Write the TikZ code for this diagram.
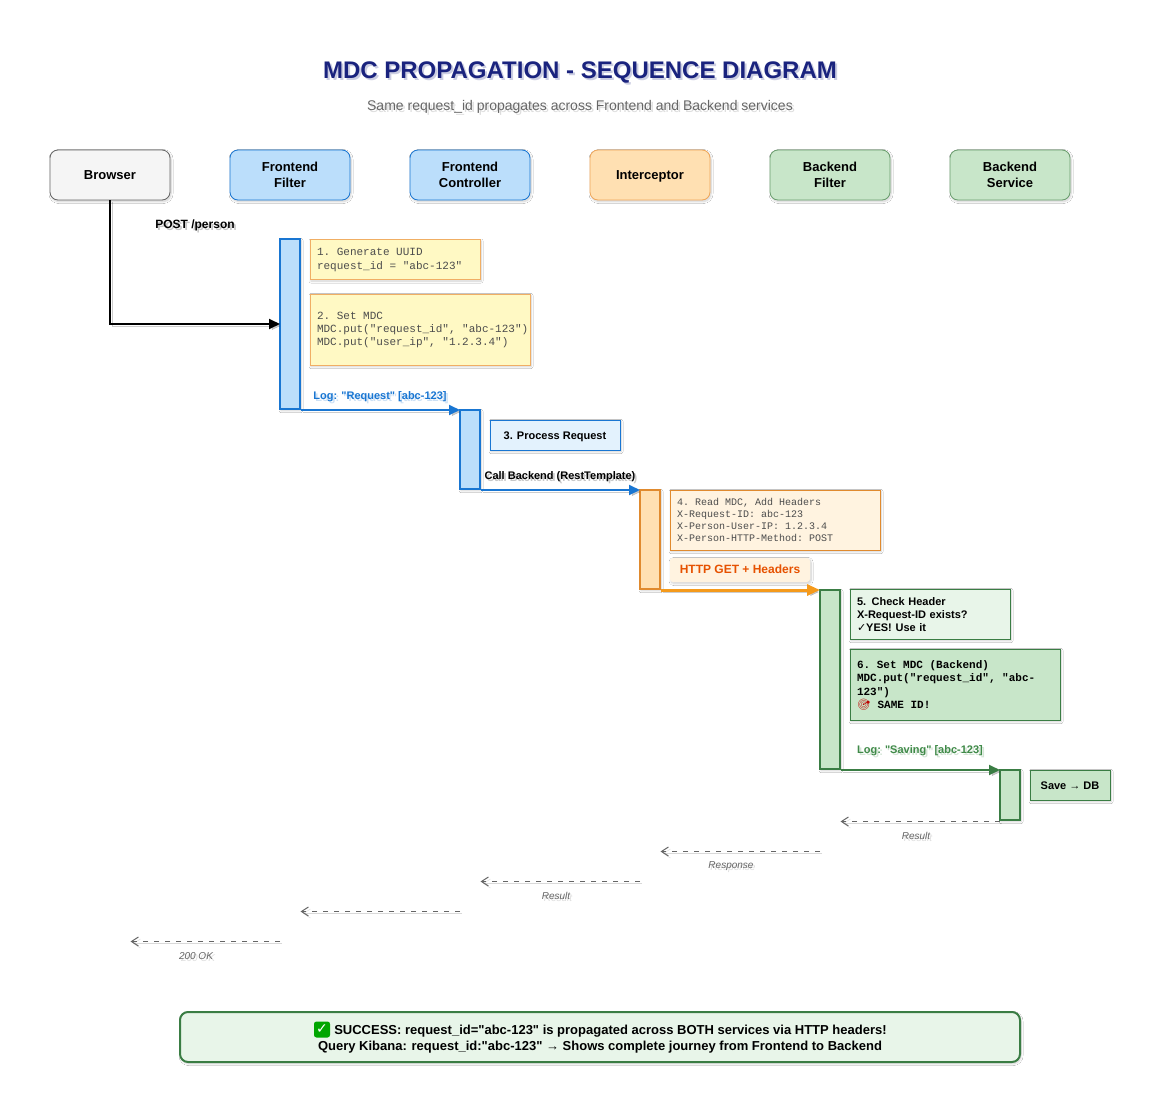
\documentclass[tikz,border=0pt]{standalone}
\usepackage{fontspec}
\usepackage{xcolor}
\setmainfont[Ligatures=TeXOff]{Liberation Sans}
\setmonofont{Liberation Mono}
\newfontfamily\emojifont{Noto Emoji}
\newfontfamily\symfont{DejaVu Sans}
\usetikzlibrary{arrows.meta,shadows.blur,positioning}
\definecolor{cblue}{HTML}{1976D2}
\definecolor{cbluef}{HTML}{BBDEFB}
\definecolor{cbluel}{HTML}{E3F2FD}
\definecolor{cgreen}{HTML}{3A7D44}
\definecolor{cgreena}{HTML}{6A9E6E}
\definecolor{cgreenf}{HTML}{C8E6C9}
\definecolor{cgreenl}{HTML}{E8F5E9}
\definecolor{cgreent}{HTML}{3F8A48}
\definecolor{corange}{HTML}{E08A2E}
\definecolor{corangea}{HTML}{EFA65A}
\definecolor{corangew}{HTML}{F59A1B}
\definecolor{corangef}{HTML}{FFE0B2}
\definecolor{corangel}{HTML}{FFF3E0}
\definecolor{chttp}{HTML}{E65100}
\definecolor{cyel}{HTML}{FFF9C4}
\definecolor{cyelb}{HTML}{F0AE64}
\definecolor{cnavy}{HTML}{1A237E}
\definecolor{cgrey}{HTML}{666666}
\newcommand{\fs}[2]{\fontsize{#1}{#2}\selectfont}
\newcommand{\lift}[1]{\rule{0pt}{#1pt}}
\newcommand{\monosp}[1]{\spaceskip=#1pt\relax\xspaceskip=#1pt\relax}
\newcommand{\shlabel}[4]{%
  \node[#3,opacity=.22,xshift=2pt,yshift=-2pt] at (#2) {#4};
  \node[#3] (#1) at (#2) {#4};}
\tikzset{
  x=1pt,y=-1pt,
  softsh/.style={blur shadow={shadow xshift=1pt,shadow yshift=-1.5pt,shadow blur steps=12,shadow blur radius=2pt,shadow opacity=20}},
  actor/.style={draw,rounded corners=8pt,line width=.8pt,minimum width=120pt,minimum height=50pt,inner sep=0pt,align=center,font=\fs{13}{16}\bfseries,softsh},
  bar/.style={draw,line width=2pt,minimum width=20pt,inner sep=0pt,softsh},
  note/.style={draw,line width=1pt,inner sep=0pt,softsh,align=left},
  plain/.style={inner sep=0pt,align=center},
  msg/.style={line width=2pt,shorten >=-1pt,-{Triangle[length=11pt,width=10pt]},preaction={draw,black,opacity=.2,transform canvas={shift={(2pt,-2pt)}}}},
  ret/.style={line width=1pt,cgrey,dash pattern=on 5pt off 6pt,-{Straight Barb[length=7pt,width=9pt]},preaction={draw,black,opacity=.15,transform canvas={shift={(2pt,-2pt)}}}},
  retlab/.style={plain,font=\fs{10}{12}\itshape,cgrey},
}
\begin{document}
\begin{tikzpicture}
\useasboundingbox (0,0) rectangle (1168,1119);
\fill[white] (0,0) rectangle (1168,1119);
% title
\shlabel{title}{580,72}{plain,font=\fs{24}{28}\bfseries,text=cnavy}{MDC PROPAGATION - SEQUENCE DIAGRAM}
\shlabel{subtitle}{580,107}{plain,font=\fs{14}{16},text=cgrey}{Same request\_id propagates across Frontend and Backend services}
% actors
\node[actor,fill=black!4,draw=cgrey] (browser) at (110,175) {Browser};
\node[actor,fill=cbluef,draw=cblue] (ffilter) at (290,175) {Frontend\\Filter};
\node[actor,fill=cbluef,draw=cblue] (fctrl) at (470,175) {Frontend\\Controller};
\node[actor,fill=corangef,draw=corangea] (intc) at (650,175) {\lift{12}Interceptor};
\node[actor,fill=cgreenf,draw=cgreena] (bfilter) at (830,175) {Backend\\Filter};
\node[actor,fill=cgreenf,draw=cgreena] (bservice) at (1010,175) {Backend\\Service};
% activation bars
\node[bar,fill=cbluef,draw=cblue,minimum height=170pt] (barff) at (290,324) {};
\node[bar,fill=cbluef,draw=cblue,minimum height=79pt] (barfc) at (470,449.5) {};
\node[bar,fill=corangef,draw=corange,minimum height=99pt] (barin) at (650,539.5) {};
\node[bar,fill=cgreenf,draw=cgreen,minimum height=179pt] (barbf) at (830,679.5) {};
\node[bar,fill=cgreenf,draw=cgreen,minimum height=50pt] (barbs) at (1010,795) {};
% notes
\node[note,fill=cyel,draw=cyelb,minimum width=170pt,minimum height=40pt,text width=156pt,text=black!70,font=\ttfamily\fs{11}{14}] (n1) at (395,259.5) {\monosp{6.6}1. Generate UUID\\request\_id = "abc-123"};
\node[note,fill=cyel,draw=cyelb,minimum width=220pt,minimum height=71pt,text width=206pt,text=black!70,font=\ttfamily\fs{11}{13}] (n2) at (420,329.5) {\monosp{6.6}2. Set MDC\\\mbox{MDC.put("request\_id", "abc-123")}\\\mbox{MDC.put("user\_ip", "1.2.3.4")}};
\node[note,fill=cbluel,draw=cblue,minimum width=130pt,minimum height=30pt,align=center,font=\fs{11}{13}\bfseries] (n3) at (555,435) {\lift{12}3. Process Request};
\node[note,fill=corangel,draw=corange,minimum width=210pt,minimum height=60pt,text width=196pt,text=black!70,font=\ttfamily\fs{10}{12}] (n4) at (775,520) {\monosp{6}4. Read MDC, Add Headers\\X-Request-ID: abc-123\\X-Person-User-IP: 1.2.3.4\\X-Person-HTTP-Method: POST};
\node[plain,fill=corangel,rounded corners=3pt,minimum width=140pt,minimum height=24pt,softsh,text=chttp,font=\fs{12}{14}\bfseries] (httpl) at (740,570) {\rule[-2pt]{0pt}{2pt}HTTP GET + Headers};
\node[note,fill=cgreenl,draw=cgreen,minimum width=160pt,minimum height=50pt,text width=146pt,font=\fs{11}{13}\bfseries] (n5) at (930,614) {\lift{10}5. Check Header\\X-Request-ID exists?\\{\symfont ✓}YES! Use it};
\node[note,fill=cgreenf,draw=cgreen,minimum width=210pt,minimum height=71pt,text width=196pt,font=\ttfamily\fs{11}{13.3}\bfseries] (n6) at (955,684.5) {\monosp{6.6}\lift{10}6. Set MDC (Backend)\\MDC.put("request\_id", "abc-\\123")\\{\emojifont\textcolor{red!75!black}{🎯}} SAME ID!};
\node[note,fill=cgreenf,draw=cgreen,minimum width=80pt,minimum height=30pt,align=center,font=\fs{11}{13}\bfseries] (n7) at (1070,785) {\lift{10}Save → DB};
% messages
\coordinate (postin) at (barff.west |- 0,324);
\draw[msg,black] (browser.south) |- (postin);
\draw[msg,cblue] (barff.south east) -- (barfc.west |- barff.south east);
\draw[msg,cblue] (barfc.south east) -- (barin.west |- barfc.south east);
\draw[msg,line width=3pt,corangew,-{Triangle[length=13pt,width=11pt]}] (barin.south east) -- (barbf.west |- barin.south east);
\draw[msg,cgreen] (barbf.south east) -- (barbs.west |- barbf.south east);
\shlabel{lpost}{195,225}{plain,font=\fs{12}{14}\bfseries}{POST /person}
\shlabel{lreq}{380,396.5}{plain,font=\fs{11}{13}\bfseries,text=cblue}{Log: "Request" [abc-123]}
\shlabel{lcall}{560,476.5}{plain,font=\fs{11}{13}\bfseries}{Call Backend (RestTemplate)}
\shlabel{lsave}{920,750.5}{plain,font=\fs{11}{13}\bfseries,text=cgreent}{Log: "Saving" [abc-123]}
% returns
\coordinate (r1s) at (1000,821.5);\coordinate (r1e) at (840.5,821.5);
\coordinate (r2s) at (820,851.5);\coordinate (r2e) at (660.5,851.5);
\coordinate (r3s) at (640,881.5);\coordinate (r3e) at (480.5,881.5);
\coordinate (r4s) at (460,911.5);\coordinate (r4e) at (300.5,911.5);
\coordinate (r5s) at (280,941.5);\coordinate (r5e) at (130.5,941.5);
\draw[ret] (r1s) -- (r1e);
\draw[ret] (r2s) -- (r2e);
\draw[ret] (r3s) -- (r3e);
\draw[ret] (r4s) -- (r4e);
\draw[ret] (r5s) -- (r5e);
\shlabel{lr1}{916,836}{retlab}{Result}
\shlabel{lr2}{731,866}{retlab}{Response}
\shlabel{lr3}{556,896}{retlab}{Result}
\shlabel{lr5}{196,956}{retlab}{200 OK}
% success
\node[draw=cgreen,fill=cgreenl,line width=2pt,rounded corners=8pt,minimum width=840pt,minimum height=50pt,inner sep=0pt,align=center,softsh,font=\fs{13}{16}\bfseries] (succ) at (600,1037) {\lift{13.5}\hspace{21pt}SUCCESS: request\_id="abc-123" is propagated across BOTH services via HTTP headers!\\Query Kibana: request\_id:"abc-123" → Shows complete journey from Frontend to Backend};
\node[fill=green!65!black,rounded corners=2.5pt,minimum width=16pt,minimum height=16pt,inner sep=0pt,text=white,font=\symfont\fs{14}{14}\bfseries] (okmark) at (322,1029.5) {✓};
\end{tikzpicture}
\end{document}
